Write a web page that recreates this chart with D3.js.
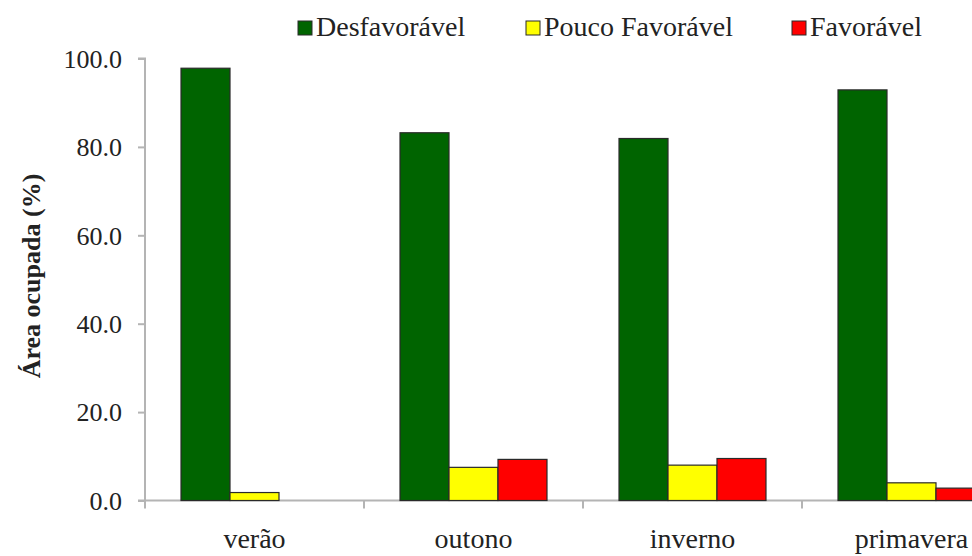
<!DOCTYPE html>
<html>
<head>
<meta charset="utf-8">
<script src="https://cdn.jsdelivr.net/npm/d3@7"></script>
<style>
html,body{margin:0;padding:0;background:#fff;}
svg{display:block;}
</style>
</head>
<body>
<svg id="chart" width="972" height="556"></svg>
<script>
const categories = ["verão", "outono", "inverno", "primavera"];
const seriesNames = ["Desfavorável", "Pouco Favorável", "Favorável"];
const desfavoravel = [97.8, 83.2, 81.9, 92.9];
const poucoFavoravel = [1.8, 7.5, 8.0, 4.0];
const favoravel = [0.0, 9.3, 9.5, 2.8];
const yTicks = [0, 20, 40, 60, 80, 100];
const colors = ["#006400", "#ffff00", "#ff0000"];

const FONT = "'Liberation Serif', 'DejaVu Serif', serif";
const seriesValues = [desfavoravel, poucoFavoravel, favoravel];
const table = categories.map((c, i) => ({
  cat: c,
  vals: seriesNames.map((s, j) => ({ key: s, value: seriesValues[j][i], color: colors[j] }))
}));

const svg = d3.select("#chart").style("font-family", FONT);
const axisColor = "#b4b4b4";

const x0 = d3.scaleBand().domain(categories).range([145, 1021]).padding(0);
const x1 = d3.scaleBand().domain(seriesNames).range([0, x0.bandwidth()])
  .paddingInner(0).paddingOuter(0.735);
const y = d3.scaleLinear().domain([0, 100]).range([500.5, 58.5]);

// y axis
const yAxis = svg.append("g").attr("transform", "translate(145,0)")
  .call(d3.axisLeft(y).tickValues(yTicks).tickFormat(d3.format(".1f")).tickSize(7).tickPadding(16));
yAxis.attr("font-family", null).attr("font-size", null);
yAxis.select(".domain").attr("stroke", axisColor).attr("stroke-width", 2).attr("d", `M-7,${y(100)}H0V${y(0)}`);
yAxis.selectAll(".tick line").attr("stroke", axisColor).attr("stroke-width", 2);
yAxis.selectAll(".tick text").attr("font-size", 26).attr("fill", "#222")
  .style("font-family", FONT).attr("dy", "0.34em");

// x axis
const boundaries = categories.map(c => x0(c));
const xg = svg.append("g");
xg.append("line").attr("x1", 138).attr("x2", 972).attr("y1", y(0)).attr("y2", y(0))
  .attr("stroke", axisColor).attr("stroke-width", 2);
xg.selectAll("line.tk").data(boundaries).join("line").attr("class", "tk")
  .attr("x1", d => d).attr("x2", d => d).attr("y1", y(0)).attr("y2", y(0) + 8)
  .attr("stroke", axisColor).attr("stroke-width", 2);
xg.selectAll("text").data(categories).join("text")
  .attr("x", d => x0(d) + x0.bandwidth() / 2).attr("y", 548)
  .attr("text-anchor", "middle").attr("font-size", 28).attr("fill", "#222")
  .style("font-family", FONT).text(d => d);

// bars
const groups = svg.append("g").selectAll("g").data(table).join("g")
  .attr("transform", d => `translate(${x0(d.cat)},0)`);
groups.selectAll("rect").data(d => d.vals.filter(v => v.value > 0)).join("rect")
  .attr("x", d => x1(d.key)).attr("width", x1.bandwidth())
  .attr("y", d => y(d.value)).attr("height", d => y(0) - y(d.value))
  .attr("fill", d => d.color).attr("stroke", "#2a2a2a").attr("stroke-width", 1.2);

// y title
svg.append("text").attr("transform", "translate(40,276) rotate(-90)")
  .attr("text-anchor", "middle").attr("font-size", 26).attr("font-weight", "bold")
  .attr("fill", "#222").style("font-family", FONT)
  .text("Área ocupada (%)");

// legend
const legendX = [298, 526, 792];
const lg = svg.append("g").selectAll("g").data(seriesNames).join("g")
  .attr("transform", (d, i) => `translate(${legendX[i]},21)`);
lg.append("rect").attr("width", 14).attr("height", 14)
  .attr("fill", (d, i) => colors[i]).attr("stroke", "#2a2a2a").attr("stroke-width", 1);
lg.append("text").attr("x", 18).attr("y", 15).attr("font-size", 28).attr("fill", "#222")
  .style("font-family", FONT).text(d => d);
</script>
</body>
</html>
